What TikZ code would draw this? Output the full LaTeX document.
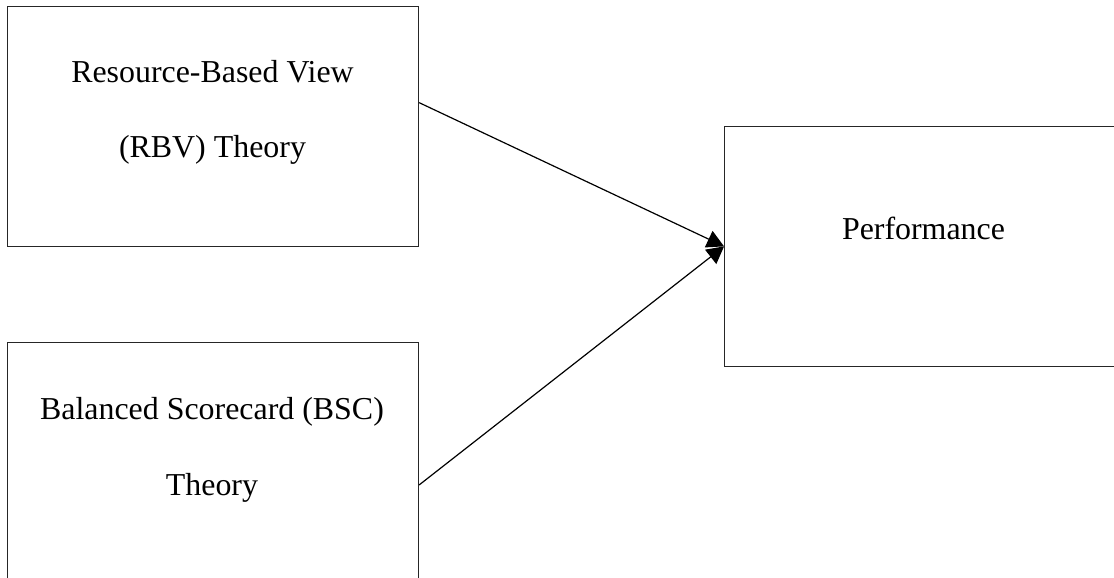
\documentclass[tikz,border=0pt]{standalone}
\usepackage{fontspec}
\setmainfont{Liberation Serif}
\usetikzlibrary{arrows.meta,calc}
\begin{document}
\begin{tikzpicture}[x=0.5pt,y=-0.5pt,
  box/.style={draw=black!85, line width=0.55pt, rectangle, inner sep=0pt, minimum width=205.7pt, minimum height=119.8pt},
  lbl/.style={anchor=base, inner sep=0pt, font=\fontsize{15.95}{18}\selectfont},
  conn/.style={line width=0.6pt, -{Triangle[length=8.5pt,width=9pt]}}]
\useasboundingbox (0,0) rectangle (1114,578);
\clip (0,0) rectangle (1114,578);
\node[box] (rbv) at (212.9,126.5) {};
\node[box] (bsc) at (212.9,462.3) {};
\node[box] (perf) at (930.3,246.4) {};
\node[lbl] (rbv1) at (212.5,82) {Resource-Based View};
\node[lbl] (rbv2) at (212.5,157) {(RBV) Theory};
\node[lbl] (bsc1) at (212,419) {Balanced Scorecard (BSC)};
\node[lbl] (bsc2) at (212,495) {Theory};
\node[lbl] (perf1) at (923.5,239.5) {Performance};
\coordinate (s1) at ($(rbv.north east)+(0,96.5)$);
\coordinate (s2) at ($(bsc.north east)+(0,143)$);
\draw[conn] (s1) -- (perf.west);
\draw[conn] (s2) -- (perf.west);
\end{tikzpicture}
\end{document}
